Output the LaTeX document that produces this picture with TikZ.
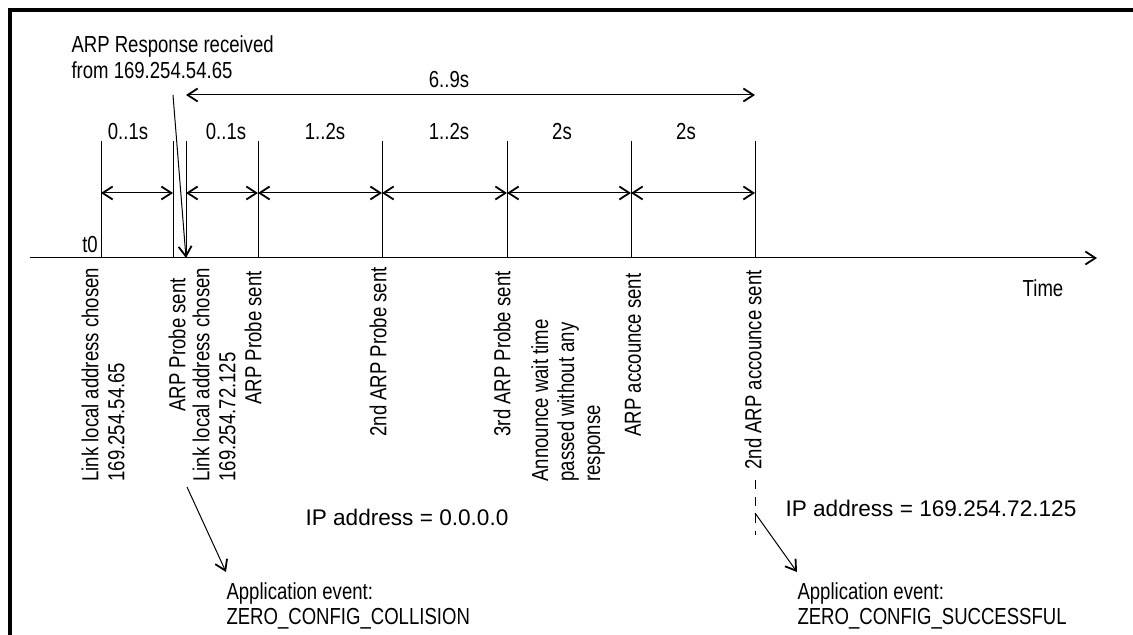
\documentclass[tikz,border=0pt]{standalone}
\usepackage{fontspec}
\setmainfont{Liberation Sans}[FakeStretch=0.8]
\newfontfamily\widefont{Liberation Sans}
\usetikzlibrary{arrows.meta}
\tikzset{
    every node/.style={inner sep=0pt, font=\fontsize{11.6}{13}\selectfont},
    event label/.style={rotate=90, anchor=west, align=left},
    ip label/.style={anchor=west, font=\widefont\fontsize{11.3}{13}\selectfont},
    app label/.style={anchor=north west, align=left, font=\fontsize{11.6}{12.6}\selectfont},
    >={Straight Barb[length=5pt, width=6.5pt, line width=0.9pt]}
}

\begin{document}
\begin{tikzpicture}[x=0.5pt, y=-0.5pt, line width=0.5pt]
    \useasboundingbox (0,0) rectangle (1133,635);
    \draw[line width=2pt] (10,635) -- (10,10) -- (1133,10);

    \coordinate (start) at (30,258);
    \coordinate (end) at (1097,258);
    \coordinate (tickrow) at (0,141);
    \coordinate (dimrow) at (0,193);
    \coordinate (spanrow) at (0,95);

    \coordinate (e0) at (101,258);
    \coordinate (e1) at (173,258);
    \coordinate (e2) at (186,258);
    \coordinate (e3) at (258,258);
    \coordinate (e4) at (382,258);
    \coordinate (e5) at (507,258);
    \coordinate (e6) at (631,258);
    \coordinate (e7) at (755,258);

    \draw[->] (start) -- (end);
    \draw (e0) -- (e0 |- tickrow);
    \draw (e1) -- (e1 |- tickrow);
    \draw (e2) -- (e2 |- tickrow);
    \draw (e3) -- (e3 |- tickrow);
    \draw (e4) -- (e4 |- tickrow);
    \draw (e5) -- (e5 |- tickrow);
    \draw (e6) -- (e6 |- tickrow);
    \draw (e7) -- (e7 |- tickrow);

    \draw[<->] (e0 |- dimrow) -- (e1 |- dimrow);
    \draw[<->] (e2 |- dimrow) -- (e3 |- dimrow);
    \draw[<->] (e3 |- dimrow) -- (e4 |- dimrow);
    \draw[<->] (e4 |- dimrow) -- (e5 |- dimrow);
    \draw[<->] (e5 |- dimrow) -- (e6 |- dimrow);
    \draw[<->] (e6 |- dimrow) -- (e7 |- dimrow);
    \draw[<->] (e2 |- spanrow) -- (e7 |- spanrow);

    \node (d1) at (128,132) {0..1s};
    \node (d2) at (226,132) {0..1s};
    \node (d3) at (325,132) {1..2s};
    \node (d4) at (449,132) {1..2s};
    \node (d5) at (562,132) {2s};
    \node (d6) at (686,132) {2s};
    \node (span) at (449,80) {6..9s};
    \node (t0) at (90,245) {t0};
    \node (time) at (1043,288) {Time};

    \node[anchor=north west, align=left] (resp) at (71,35) {ARP Response received\\from 169.254.54.65};
    \draw[->] (e1 |- spanrow) -- (e2);

    \node[event label] (l0) at (103,482) {Link local address chosen\\169.254.54.65};
    \node[event label] (l1) at (177,412) {ARP Probe sent};
    \node[event label] (l2) at (214,482) {Link local address chosen\\169.254.72.125};
    \node[event label] (l3) at (253,405) {ARP Probe sent};
    \node[event label] (l4) at (378,437) {2nd ARP Probe sent};
    \node[event label] (l5) at (502,437) {3rd ARP Probe sent};
    \node[event label] (l6) at (568,482) {Announce wait time\\passed without any\\response};
    \node[event label] (l7) at (633,437) {ARP accounce sent};
    \node[event label] (l8) at (753,470) {2nd ARP accounce sent};

    \node[ip label] (ipnone) at (305,517) {IP address = 0.0.0.0};
    \node[ip label] (ipset) at (785,508) {IP address = 169.254.72.125};

    \coordinate (collision) at (187,487);
    \node[app label] (appfail) at (226,582) {Application event:\\ZERO\_CONFIG\_COLLISION};
    \draw[->] (collision) -- ([yshift=5pt]appfail.north west);

    \coordinate (dashtop) at (0,480);
    \coordinate (dashbot) at (0,535);
    \coordinate (success) at (755,513);
    \draw[dash pattern=on 4.5pt off 4pt] (e7 |- dashtop) -- (e7 |- dashbot);
    \node[app label] (appok) at (797,582) {Application event:\\ZERO\_CONFIG\_SUCCESSFUL};
    \draw[->] (success) -- ([yshift=5pt]appok.north west);
\end{tikzpicture}
\end{document}
